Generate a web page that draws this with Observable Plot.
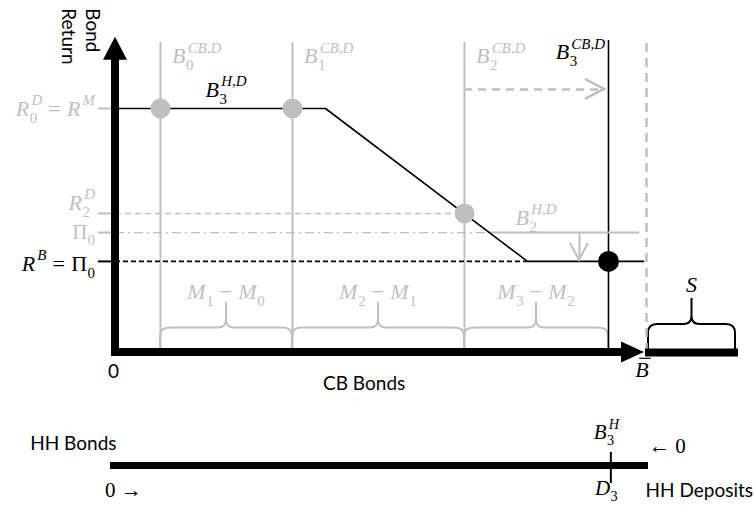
<!DOCTYPE html>
<html><head><meta charset="utf-8">
<script src="https://cdn.jsdelivr.net/npm/d3@7"></script>
<script src="https://cdn.jsdelivr.net/npm/@observablehq/plot@0.6"></script>
<style>
html,body{margin:0;padding:0;background:#fff;overflow:hidden;}
#chart svg{display:block;}
</style></head><body><div id="chart"></div>
<script>
// ---------------- data ----------------
// CB bond holdings B_t^{CB,D}, t = 0..3 (bond units along the x axis)
const cbPeriods = ["0", "1", "2", "3"];
const cbBonds = [45, 177, 349, 493];
const bBar = 529;          // total bond supply B̄
const sEnd = 623;          // end of the surplus segment S
// returns (y units)
const RM = 6.0;            // R0^D = R^M
const R2D = 3.42;          // R2^D
const Pi0 = 2.95;          // Π0
const RB = 2.24;           // R^B = Π0
const axisTop = 7.75;      // tip of return axis
const lineTop = 7.62;      // top of grey B^{CB,D} lines
const blackTop = 7.67;     // top of B3^{CB,D} and B̄ lines
const shiftY = 6.47;       // level of the dashed shift arrow
const downArrowX = 464;    // x of the Π0 -> R^B arrow
// household demand B3^{H,D} (kinked curve)
const demand3X = [0, 210, 412, 528];
const demand3Y = [RM, RM, RB, RB];
// flat tail of B2^{H,D}
const demand2X = [374, 523];
const demand2Y = [Pi0, Pi0];
// braces
const braceTop = 0.6, bracePeak = 1.23, sTop = 0.69, sPeak = 1.33;
// y tick labels
const yTickValues = [RM, R2D, Pi0, RB];
const yTickTokens = [
  [["R", "0", "D"], "=", ["R", null, "M"]],
  [["R", "2", "D"]],
  [["Π", "0", null]],
  [["R", null, "B"], "=", ["Π", "0", null]]
];
const yTickColors = ["#bfbfbf", "#bfbfbf", "#bfbfbf", "black"];
const yTickBaseline = [8, -3, 7, 10];
const yTickSize = [22, 22, 21, 22];
// bottom strip: household bonds vs deposits (share of wealth)
const hhTotal = 100;
const hhB3 = 93;
const xTitle = "CB Bonds";
const yTitle = "Bond\nReturn";

// ---------------- helpers ----------------
const gray = "#bfbfbf";
const MATH_FONT = "'Liberation Serif','DejaVu Serif',serif";
const SANS = "Lato, 'Open Sans', sans-serif";
const ctx2d = document.createElement("canvas").getContext("2d");
function tw(t, s, it) { ctx2d.font = `${it ? "italic " : ""}${s}px ${MATH_FONT}`; return ctx2d.measureText(t).width; }
const isIt = t => /[A-Za-z]/.test(t);

function layoutMath(tokens, size) {
  const ss = size * 0.68, items = []; let cx = 0;
  for (const tok of tokens) {
    if (typeof tok === "string") {
      if (tok === "=" || tok === "−") {
        const sp = size * 0.28; cx += sp;
        items.push({t: tok, x: cx, dy: 0, s: size, it: false});
        cx += tw(tok, size, false) + sp;
      } else {
        const it = isIt(tok);
        items.push({t: tok, x: cx, dy: 0, s: size, it});
        cx += tw(tok, size, it);
      }
      continue;
    }
    if (tok.bar) {
      const w = tw(tok.bar, size, true);
      items.push({t: tok.bar, x: cx, dy: 0, s: size, it: true, bar: w});
      cx += w; continue;
    }
    const [b, sb, sp] = tok; const it = isIt(b);
    items.push({t: b, x: cx, dy: 0, s: size, it}); cx += tw(b, size, it);
    let w = 0;
    if (sb != null) { const i2 = isIt(sb); items.push({t: sb, x: cx + 0.5, dy: size * 0.3, s: ss, it: i2}); w = Math.max(w, 0.5 + tw(sb, ss, i2)); }
    if (sp != null) { const i2 = isIt(sp); const off = it ? size * 0.1 : 0.02 * size; items.push({t: sp, x: cx + off, dy: -size * 0.48, s: ss, it: i2}); w = Math.max(w, off + tw(sp, ss, i2)); }
    cx += w;
  }
  return {items, width: cx};
}

function mathLabels(labels) {
  return (index, scales) => {
    const g = d3.create("svg:g").attr("text-anchor", "start");
    for (const L of labels) {
      const size = L.size ?? 22;
      const {items, width} = layoutMath(L.tokens, size);
      const px = scales.x(L.x) + (L.dx ?? 0), py = scales.y(L.y) + (L.dy ?? 0);
      const off = L.anchor === "end" ? -width : L.anchor === "middle" ? -width / 2 : 0;
      for (const it of items) {
        g.append("text").attr("x", px + off + it.x).attr("y", py + it.dy)
          .attr("text-anchor", "start")
          .attr("font-family", MATH_FONT).attr("font-size", it.s)
          .attr("font-style", it.it ? "italic" : "normal").attr("fill", L.color).text(it.t);
        if (it.bar) {
          g.append("line").attr("x1", px + off + it.x + 4).attr("x2", px + off + it.x + it.bar + 2)
            .attr("y1", py - size * 0.85).attr("y2", py - size * 0.85)
            .attr("stroke", L.color).attr("stroke-width", 1.2);
        }
      }
    }
    return g.node();
  };
}

function braces(list) {
  return (index, {x, y}) => {
    const g = d3.create("svg:g");
    for (const b of list) {
      const xa = x(b.x1), xb = x(b.x2), m = (xa + xb) / 2, yb = y(0), yt = y(b.top), yp = y(b.peak), r = 9, rm = 8;
      const p = d3.path();
      p.moveTo(xa, yb); p.lineTo(xa, yt + r); p.quadraticCurveTo(xa, yt, xa + r, yt);
      p.lineTo(m - rm, yt); p.quadraticCurveTo(m, yt, m, yt - rm); p.lineTo(m, yp);
      p.moveTo(m, yt - rm); p.quadraticCurveTo(m, yt, m + rm, yt);
      p.lineTo(xb - r, yt); p.quadraticCurveTo(xb, yt, xb, yt + r); p.lineTo(xb, yb);
      g.append("path").attr("d", p.toString()).attr("fill", "none").attr("stroke", b.color).attr("stroke-width", b.w);
    }
    return g.node();
  };
}

function chevrons(list) {
  return (index, {x, y}) => {
    const g = d3.create("svg:g");
    for (const c of list) {
      const tx = x(c.x) + (c.dx ?? 0), ty = y(c.y) + (c.dy ?? 0);
      g.append("path").attr("d", `M${-c.len},${-c.hw}L0,0L${-c.len},${c.hw}`)
        .attr("transform", `translate(${tx},${ty}) rotate(${c.angle})`)
        .attr("fill", "none").attr("stroke", c.color).attr("stroke-width", c.w);
    }
    return g.node();
  };
}

function axisArrows() {
  return (index, {x, y}) => {
    const g = d3.create("svg:g");
    const x0 = x(0), y0 = y(0), yt = y(axisTop), xt = x(bBar);
    const L = 23, H = 12, Hx = 10.5;
    g.append("line").attr("x1", x0).attr("x2", x0).attr("y1", y0 + 4).attr("y2", yt + L - 2)
      .attr("stroke", "black").attr("stroke-width", 8);
    g.append("path").attr("d", `M${x0},${yt}L${x0 - H},${yt + L}L${x0 + H},${yt + L}Z`).attr("fill", "black");
    g.append("line").attr("x1", x0 - 4).attr("x2", xt - L + 2).attr("y1", y0).attr("y2", y0)
      .attr("stroke", "black").attr("stroke-width", 8);
    g.append("path").attr("d", `M${xt},${y0}L${xt - L},${y0 - Hx}L${xt - L},${y0 + Hx}Z`).attr("fill", "black");
    return g.node();
  };
}

// ---------------- labels ----------------
const mid = (a, b) => (a + b) / 2;
const mainLabels = [
  ...cbPeriods.slice(0, 3).map((p, i) => ({tokens: [["B", p, "CB,D"]], x: cbBonds[i], y: lineTop, dx: 12, dy: 21, color: gray})),
  {tokens: [["B", "3", "CB,D"]], x: cbBonds[3], y: lineTop, dx: -3, dy: 17, anchor: "end", color: "black"},
  {tokens: [["B", "3", "H,D"]], x: mid(cbBonds[0], cbBonds[1]), y: RM, dy: -11, anchor: "middle", color: "black"},
  {tokens: [["B", "2", "H,D"]], x: mid(cbBonds[2], cbBonds[3]), y: Pi0, dy: -7, anchor: "middle", color: gray},
  ...yTickTokens.map((t, i) => ({tokens: t, x: 0, dx: -20, y: yTickValues[i], dy: yTickBaseline[i], anchor: "end", color: yTickColors[i], size: yTickSize[i]})),
  {tokens: [["M", "1", null], "−", ["M", "0", null]], x: mid(cbBonds[0], cbBonds[1]), y: bracePeak, dy: -3, anchor: "middle", color: gray},
  {tokens: [["M", "2", null], "−", ["M", "1", null]], x: mid(cbBonds[1], cbBonds[2]), y: bracePeak, dy: -3, anchor: "middle", color: gray},
  {tokens: [["M", "3", null], "−", ["M", "2", null]], x: mid(cbBonds[2], cbBonds[3]), y: bracePeak, dy: -3, anchor: "middle", color: gray},
  {tokens: ["S"], x: mid(bBar + 4, sEnd - 3), y: sPeak, dy: -6, anchor: "middle", color: "black"},
  {tokens: [{bar: "B"}], x: bBar, dx: -2, y: 0, dy: 25, anchor: "middle", color: "black"}
];

const main = Plot.plot({
  width: 754, height: 410, margin: 0,
  style: {background: "white", overflow: "visible"},
  x: {domain: [0, bBar], range: [115, 644], axis: null},
  y: {domain: [0, 6], range: [352, 108], axis: null},
  marks: [
    braces([
      {x1: cbBonds[0], x2: cbBonds[1], top: braceTop, peak: bracePeak, color: gray, w: 2},
      {x1: cbBonds[1], x2: cbBonds[2], top: braceTop, peak: bracePeak, color: gray, w: 2},
      {x1: cbBonds[2], x2: cbBonds[3], top: braceTop, peak: bracePeak, color: gray, w: 2},
      {x1: bBar + 4, x2: sEnd - 3, top: sTop, peak: sPeak, color: "black", w: 2}
    ]),
    Plot.ruleX(cbBonds.slice(0, 3), {y1: 0, y2: lineTop, stroke: gray, strokeWidth: 2}),
    Plot.ruleX([cbBonds[3]], {y1: 0, y2: blackTop, stroke: "black", strokeWidth: 1.6}),
    Plot.ruleX([bBar], {y1: 0, y2: blackTop, dx: 2, stroke: gray, strokeWidth: 2.5, strokeDasharray: "9,6"}),
    Plot.ruleY(yTickValues.slice(0, 3), {x1: -17, x2: 0, stroke: gray, strokeWidth: 2}),
    Plot.ruleY([RB], {x1: -17, x2: 0, stroke: "black", strokeWidth: 2}),
    Plot.ruleY([R2D], {x1: 0, x2: cbBonds[2], stroke: gray, strokeWidth: 1.5, strokeDasharray: "6,4"}),
    Plot.ruleY([Pi0], {x1: 0, x2: demand2X[0], stroke: gray, strokeWidth: 1.2, strokeDasharray: "9,4,2,4"}),
    Plot.line(demand2X, {x: d => d, y: (d, i) => demand2Y[i], stroke: gray, strokeWidth: 2}),
    Plot.ruleY([RB], {x1: 0, x2: demand3X[2], stroke: "black", strokeWidth: 1.6, strokeDasharray: "5,3"}),
    Plot.line(demand3X, {x: d => d, y: (d, i) => demand3Y[i], stroke: "black", strokeWidth: 1.6}),
    Plot.ruleY([shiftY], {x1: cbBonds[2], x2: cbBonds[3] - 5, stroke: gray, strokeWidth: 2.5, strokeDasharray: "8,6"}),
    Plot.ruleX([downArrowX], {y1: Pi0, y2: RB, stroke: gray, strokeWidth: 2}),
    chevrons([
      {x: cbBonds[3], y: shiftY, dx: -4, angle: 0, len: 19, hw: 10, color: gray, w: 2.5},
      {x: downArrowX, y: RB, dy: -1, angle: 90, len: 17, hw: 9, color: gray, w: 2}
    ]),
    Plot.dot([0, 1, 2], {x: i => cbBonds[i], y: i => [RM, RM, R2D][i], r: 10, fill: gray}),
    Plot.dot([0], {x: () => cbBonds[3], y: () => RB, r: 10.5, fill: "black"}),
    Plot.ruleY([0], {x1: bBar + 1, x2: sEnd, stroke: "black", strokeWidth: 8}),
    axisArrows(),
    mathLabels(mainLabels),
    Plot.text([yTitle], {x: 0, y: axisTop, dx: -54, dy: -29, rotate: 90, textAnchor: "start", lineAnchor: "bottom", lineHeight: 1.3, fontSize: 19, fontFamily: SANS, fill: "black"}),
    Plot.text(["0"], {x: 0, y: 0, dx: -2, dy: 25, lineAnchor: "bottom", fontSize: 19, fontFamily: SANS, fill: "black"}),
    Plot.text([xTitle], {x: bBar * 0.47, y: 0, dy: 37, lineAnchor: "bottom", fontSize: 19, fontFamily: SANS, fill: "black"})
  ]
});

const bottom = Plot.plot({
  width: 754, height: 96, margin: 0,
  style: {background: "white", overflow: "visible"},
  x: {domain: [0, hhTotal], range: [110, 648], axis: null},
  y: {domain: [0, 1], range: [55, 14], axis: null},
  marks: [
    Plot.ruleY([0], {x1: 0, x2: hhTotal, stroke: "black", strokeWidth: 7}),
    Plot.ruleX([hhB3], {y1: -0.44, y2: 0.32, stroke: "black", strokeWidth: 2}),
    Plot.text(["HH Bonds"], {x: 0, y: 0, dx: 6, dy: -16, textAnchor: "end", lineAnchor: "bottom", fontSize: 19, fontFamily: SANS, fill: "black"}),
    Plot.text(["HH Deposits"], {x: hhTotal, y: 0, dx: -3, dy: 31, textAnchor: "start", lineAnchor: "bottom", fontSize: 19, fontFamily: SANS, fill: "black"}),
    mathLabels([
      {tokens: ["0 →"], x: 0, dx: -5, y: 0, dy: 32, color: "black", size: 21},
      {tokens: ["← 0"], x: hhTotal, dx: 1, y: 0, dy: -12, color: "black", size: 21},
      {tokens: [["B", "3", "H"]], x: hhB3, dx: -4, y: 0, dy: -26, anchor: "middle", color: "black", size: 21},
      {tokens: [["D", "3", null]], x: hhB3, dx: -4, y: 0, dy: 30, anchor: "middle", color: "black", size: 21}
    ])
  ]
});

document.getElementById("chart").append(main, bottom);
</script>
</body></html>
